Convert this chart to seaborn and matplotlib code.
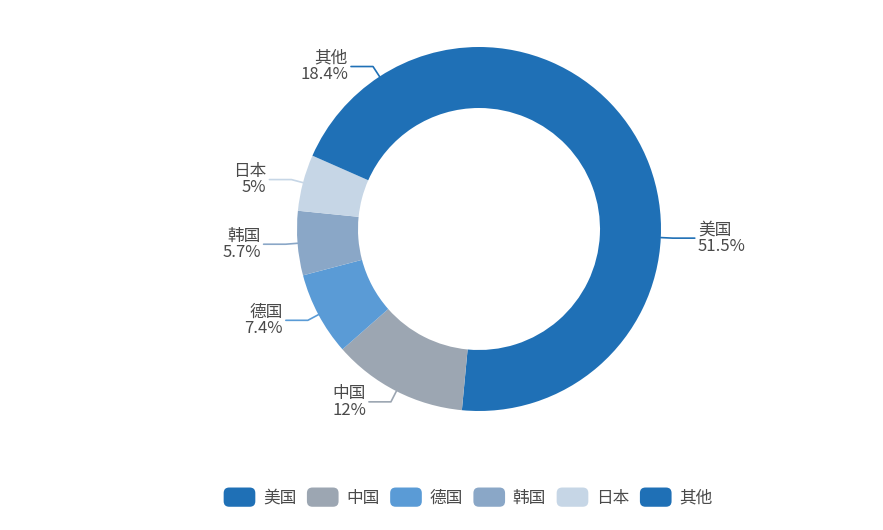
import numpy as np
import matplotlib
matplotlib.use("Agg")
import matplotlib.pyplot as plt
import seaborn as sns
from matplotlib.patches import FancyBboxPatch, Wedge
from matplotlib.legend_handler import HandlerPatch

# data
countries = ["美国", "中国", "德国", "韩国", "日本", "其他"]
shares = [51.5, 12, 7.4, 5.7, 5, 18.4]
share_labels = ["51.5%", "12%", "7.4%", "5.7%", "5%", "18.4%"]
colors = ["#1f70b6", "#9ca6b2", "#5a9bd6", "#8aa7c7", "#c6d6e6", "#1f70b6"]

sns.set_theme(style="white")
plt.rcParams['font.family'] = ['Noto Sans CJK SC', 'DejaVu Sans']
text_color = "#4a4a4a"

fig = plt.figure(figsize=(8.83, 5.30), dpi=100)
ax = fig.add_axes([0, 0, 1, 1])

cx, cy = 479, 530 - 229
r_out = 182
ring = 61

wedges, _ = ax.pie(shares, colors=colors, startangle=90, counterclock=False,
                   radius=r_out, center=(cx, cy),
                   wedgeprops=dict(width=ring, linewidth=0))

# pie() resets the limits, so set the pixel frame afterwards
ax.set_xlim(0, 883)
ax.set_ylim(0, 530)
ax.set_aspect("equal")
ax.axis("off")

# leader lines + two-line labels
for w, name, pct, col in zip(wedges, countries, share_labels, colors):
    theta = np.deg2rad((w.theta1 + w.theta2) / 2)
    c, s = np.cos(theta), np.sin(theta)
    p1 = (cx + r_out * c, cy + r_out * s)
    p2 = (cx + (r_out + 12) * c, cy + (r_out + 12) * s)
    side = 1 if c >= 0 else -1
    p3 = (p2[0] + side * 22, p2[1])
    ax.plot([p1[0], p2[0], p3[0]], [p1[1], p2[1], p3[1]], color=col, lw=1.2,
            solid_capstyle="round")
    ax.text(p3[0] + side * 3, p3[1], f"{name}\n{pct}",
            ha="left" if side > 0 else "right", va="center",
            fontsize=12, color=text_color, linespacing=0.95)


def rounded_handle(legend, orig_handle, xdescent, ydescent, width, height, fontsize):
    return FancyBboxPatch((-xdescent, -ydescent), width, height,
                          boxstyle="round,pad=0,rounding_size=4")


legend = fig.legend(wedges, countries, loc="center", bbox_to_anchor=(0.53, 0.062),
                    ncol=6, frameon=False, fontsize=12, handlelength=1.9,
                    handleheight=1.4, handletextpad=0.45, columnspacing=0.65,
                    handler_map={Wedge: HandlerPatch(patch_func=rounded_handle)})
for t in legend.get_texts():
    t.set_color(text_color)

fig.savefig("out.png", dpi=100)
